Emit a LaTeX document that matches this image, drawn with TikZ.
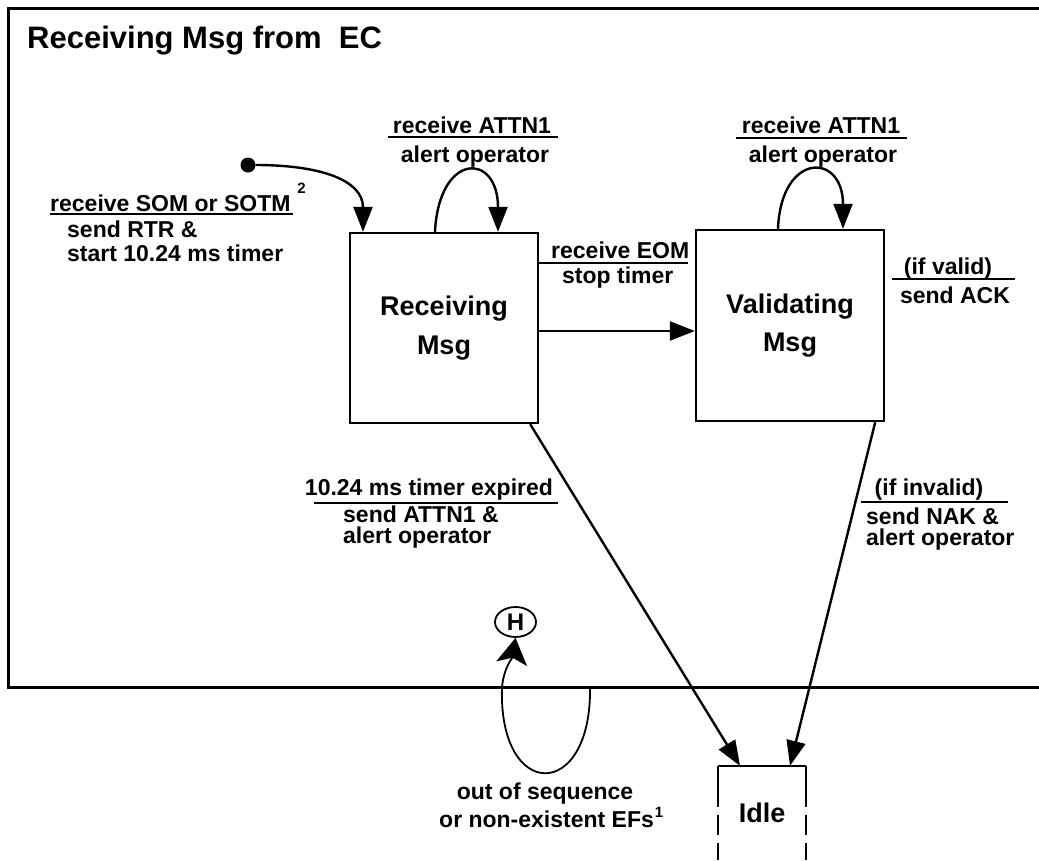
\documentclass[tikz,border=0pt]{standalone}
\usepackage{fontspec}
\setmainfont{Liberation Sans}
\usetikzlibrary{arrows.meta,shapes.geometric}

\newcommand\titlefont{\bfseries\fontsize{31}{36}\selectfont}
\newcommand\statefont{\bfseries\fontsize{27}{38.5}\selectfont}
\newcommand\lblfont{\bfseries\fontsize{23}{24}\selectfont}
\newcommand\smallnum{\bfseries\fontsize{15}{15}\selectfont}

\begin{document}
\begin{tikzpicture}[x=1pt,y=-1pt,
    lbl/.style={inner sep=0pt,font=\lblfont},
    statebox/.style={draw,line width=2.4pt,inner sep=0pt,align=center,font=\statefont,minimum width=188pt},
    trans/.style={line width=2.4pt,-{Triangle[length=25pt,width=19pt]}},
    uline/.style={line width=2.6pt},
    frame/.style={line width=3pt}]
    \useasboundingbox (0,0) rectangle (1039,860);
    \draw[frame] (1039,8) -- (8,8) -- (8,687) -- (1039,687);
    \node[anchor=base west,inner sep=0pt,font=\titlefont] (title) at (27,48) {Receiving Msg from\ \ EC};

    \node[statebox,minimum height=190pt] (recv) at (444,328) {Receiving\\Msg};
    \node[statebox,minimum height=191pt] (valid) at (790,325.5) {Validating\\Msg};
    \node[inner sep=0pt,minimum width=88pt,minimum height=94pt,font=\statefont] (idle) at (762,813) {Idle};
    \node[draw,ellipse,line width=1.8pt,inner sep=0pt,minimum width=41pt,minimum height=30pt,font=\bfseries\fontsize{24}{24}\selectfont] (hist) at (515.5,622) {H};
    \node[circle,fill,inner sep=0pt,minimum size=15pt] (init) at (248,165) {};
    \coordinate (hloop) at (590,687);

    \draw[line width=2.4pt] (idle.north west) -- (idle.north east);
    \draw[line width=2.4pt,dash pattern=on 41pt off 8pt on 20pt off 8pt] (idle.north west) -- (idle.south west);
    \draw[line width=2.4pt,dash pattern=on 41pt off 8pt on 20pt off 8pt] (idle.north east) -- (idle.south east);

    \draw[trans] (init.east) .. controls (320,165) and (363,180) .. ([xshift=-81pt]recv.north);
    \draw[trans] ([xshift=-9pt]recv.north) .. controls +(4,-80) and +(0,-80) .. ([xshift=54pt]recv.north);
    \draw[trans] ([xshift=-12pt]valid.north) .. controls +(3,-77) and +(0,-77) .. ([xshift=53pt]valid.north);
    \draw[trans] ([yshift=-3pt]recv.east) -- ([yshift=-3pt]recv.east -| valid.west);
    \draw[trans] ([xshift=-9pt]recv.south east) -- ([xshift=-22pt]idle.north);
    \draw[trans] ([xshift=-10pt]valid.south east) -- ([xshift=28pt]idle.north);
    \draw[line width=1.8pt,-{Stealth[length=26pt,width=31pt,inset=6pt]}] (hloop) .. controls +(2,115) and +(-4,115) .. (502,687) .. controls +(2,-20) and +(-3,20) .. (hist.south);

    \node[lbl,anchor=base west] (som) at (50,211) {receive SOM or SOTM\kern7pt\raisebox{18pt}{\smallnum 2}};
    \draw[uline] (50,214) -- (293,214);
    \node[lbl,anchor=base west] (rtr) at (67,237) {send RTR \&};
    \node[lbl,anchor=base west] (start) at (67,261) {start 10.24 ms timer};

    \node[lbl,anchor=base] (attn1) at (472,133) {receive ATTN1};
    \draw[uline] (388,137) -- (558,137);
    \node[lbl,anchor=base] (alert1) at (475,162) {alert operator};

    \node[lbl,anchor=base] (attn2) at (821,133) {receive ATTN1};
    \draw[uline] (736,138) -- (907,138);
    \node[lbl,anchor=base] (alert2) at (823,162) {alert operator};

    \node[lbl,anchor=base west] (eom) at (551,258) {receive EOM};
    \draw[uline] (538,263) -- (688,263);
    \node[lbl,anchor=base west] (stop) at (562,283) {stop timer};

    \node[lbl,anchor=base] (ok) at (948,274) {(if valid)};
    \draw[uline] (892,279) -- (1015,279);
    \node[lbl,anchor=base] (ack) at (955,303) {send ACK};

    \node[lbl,anchor=base] (expired) at (429,495) {10.24 ms timer expired};
    \draw[uline] (314,503) -- (558,503);
    \node[lbl,anchor=base west] (sendattn) at (343,522) {send ATTN1 \&};
    \node[lbl,anchor=base west] (alert3) at (343,543) {alert operator};

    \node[lbl,anchor=base] (bad) at (929,495) {(if invalid)};
    \draw[uline] (861,502) -- (1008,502);
    \node[lbl,anchor=base west] (nak) at (866,524) {send NAK \&};
    \node[lbl,anchor=base west] (alert4) at (866,545) {alert operator};

    \node[lbl,anchor=base] (seq) at (545,799) {out of sequence};
    \node[lbl,anchor=base west] (efs) at (439,827) {or non-existent EFs\kern1pt\raisebox{10pt}{\smallnum 1}};
\end{tikzpicture}
\end{document}
